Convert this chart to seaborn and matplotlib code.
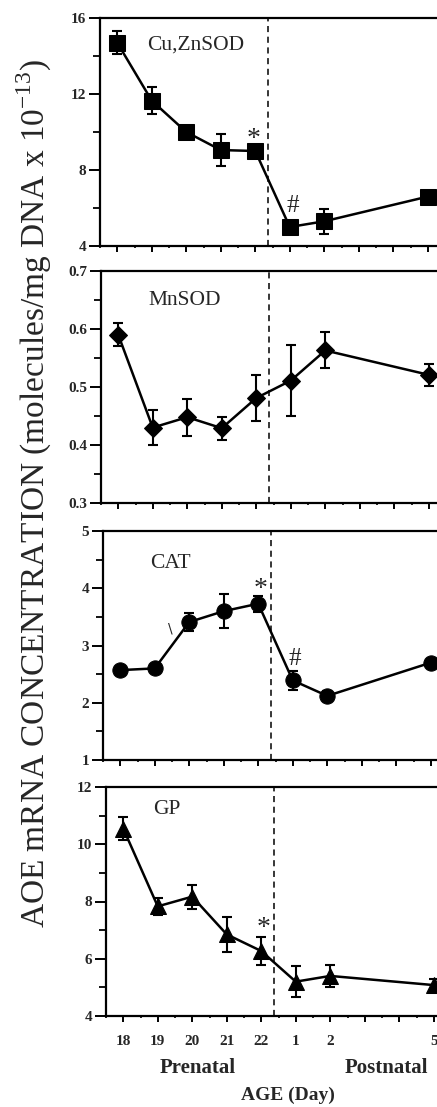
import numpy as np
import pandas as pd
import matplotlib
matplotlib.use("Agg")
import matplotlib.pyplot as plt
from matplotlib.ticker import MultipleLocator, FixedLocator
import seaborn as sns

# x positions: 18..22 prenatal, 1..5 postnatal (3 and 4 only ticks)
day_labels = ["18", "19", "20", "21", "22", "1", "2", "", "", "5"]
day_pos = [0, 1, 2, 3, 4, 5, 6, 9]

cuzn_mean = [14.7, 11.65, 10.0, 9.05, 9.0, 5.0, 5.3, 6.6]
cuzn_err = [0.6, 0.7, 0.0, 0.85, 0.0, 0.0, 0.65, 0.0]

mn_mean = [0.59, 0.43, 0.448, 0.429, 0.481, 0.511, 0.563, 0.521]
mn_err = [0.02, 0.03, 0.032, 0.02, 0.04, 0.061, 0.031, 0.019]

cat_mean = [2.57, 2.6, 3.41, 3.6, 3.73, 2.39, 2.12, 2.7]
cat_err = [0.0, 0.05, 0.15, 0.3, 0.14, 0.16, 0.08, 0.05]

gp_mean = [10.55, 7.83, 8.17, 6.85, 6.27, 5.2, 5.4, 5.08]
gp_err = [0.4, 0.3, 0.42, 0.62, 0.5, 0.53, 0.38, 0.2]

# name, mean, err, marker, ylim, major, minor, label y
panels = [
    ("Cu,ZnSOD", cuzn_mean, cuzn_err, "s", (4, 16), 4, 2, 14.6),
    ("MnSOD", mn_mean, mn_err, "D", (0.3, 0.7), 0.1, 0.05, 0.65),
    ("CAT", cat_mean, cat_err, "o", (1, 5), 1, 0.5, 4.44),
    ("GP", gp_mean, gp_err, "^", (4, 12), 2, 1, 11.2),
]
# pixel boxes of the scanned panels (left, top, bottom)
boxes = [(100, 18, 246), (101, 271, 503), (103, 531, 760), (106, 787, 1016)]
# significance marks: (panel, x, glyph-centre y, text)
marks = [(0, 3.96, 9.97, "*"), (0, 5.1, 6.25, "#"), (2, 4.06, 4.1, "*"),
         (2, 5.07, 2.81, "#"), (3, 4.07, 7.3, "*")]

sns.set_style("ticks")
plt.rcParams["font.family"] = ["Liberation Serif", "DejaVu Serif"]

W, H = 437, 1107
fig = plt.figure(figsize=(W / 100, H / 100), dpi=100)
tickfont = {"family": ["Liberation Serif", "DejaVu Serif"],
            "weight": "bold", "size": 11}

axes = []
for i, (name, mean, err, mk, ylim, major, minor, ly) in enumerate(panels):
    left, top, bot = boxes[i]
    ax = fig.add_axes([left / W, 1 - bot / H, (W - left) / W, (bot - top) / H])
    axes.append(ax)
    df = pd.DataFrame({"x": day_pos, "y": mean})
    ax.errorbar(day_pos, mean, yerr=err, fmt="none", ecolor="black",
                elinewidth=1.5, capsize=3.8, capthick=1.5, zorder=2)
    sns.lineplot(data=df, x="x", y="y", ax=ax, color="black", lw=1.8,
                 marker=mk, markersize=11 if mk != "D" else 9.5,
                 markeredgecolor="black", markerfacecolor="black", zorder=3)
    ax.axvline(4.36, color="black", ls=(0, (4, 3)), lw=1.1)
    ax.set_xlim(-0.5, -0.5 + (W - left) / 34.5)
    ax.set_ylim(*ylim)
    ax.set_xticks(range(10))
    ax.xaxis.set_minor_locator(FixedLocator(np.arange(-0.5, 9.6, 1.0)))
    ax.yaxis.set_major_locator(MultipleLocator(major))
    ax.yaxis.set_minor_locator(MultipleLocator(minor))
    ax.tick_params(axis="y", which="major", direction="out", length=8,
                   width=1.4, color="black", pad=2)
    ax.tick_params(axis="y", which="minor", direction="out", length=5,
                   width=1.3, color="black")
    ax.tick_params(axis="x", which="major", direction="out", length=4.5,
                   width=1.4, color="black", pad=9)
    ax.tick_params(axis="x", which="minor", direction="out", length=1.5,
                   width=1.2, color="black")
    for s in ["left", "bottom", "top"]:
        ax.spines[s].set_linewidth(1.6)
        ax.spines[s].set_color("black")
    ax.spines["right"].set_visible(False)
    ax.set_xlabel("")
    ax.set_ylabel("")
    if i == 3:
        ax.set_xticklabels(day_labels, fontdict=tickfont)
    else:
        ax.set_xticklabels([])
    yt = np.arange(ylim[0], ylim[1] + major / 2, major)
    ax.set_yticks(yt)
    fmt = "{:.1f}" if major < 1 else "{:.0f}"
    ax.set_yticklabels([fmt.format(t) for t in yt], fontdict=tickfont)
    ax.text(0.88, ly, name, fontsize=15.5, ha="left", va="center")

for p, x, y, t in marks:
    fs = 20 if t == "*" else 18
    k = 0.5 if t == "*" else 0.34
    axes[p].annotate(t, (x, y), xytext=(0, -k * fs), textcoords="offset points",
                     fontsize=fs, ha="center", va="baseline")
# stray scan mark in the CAT panel
axes[2].text(1.45, 3.29, "\\", fontsize=10, ha="center", va="center",
             family=["DejaVu Sans"])

fig.text(198 / W, 1 - 1068 / H, "Prenatal", fontsize=15, weight="bold",
         ha="center", va="center")
fig.text(386 / W, 1 - 1068 / H, "Postnatal", fontsize=15, weight="bold",
         ha="center", va="center")
fig.text(288 / W, 1 - 1095 / H, "AGE (Day)", fontsize=14, weight="bold",
         ha="center", va="center")
fig.text(34 / W, 1 - 494 / H,
         "AOE mRNA CONCENTRATION (molecules/mg DNA x 10$^{\\mathregular{-13}}$)",
         fontsize=24, rotation=90, ha="center", va="center")

fig.savefig("out.png", dpi=100)
